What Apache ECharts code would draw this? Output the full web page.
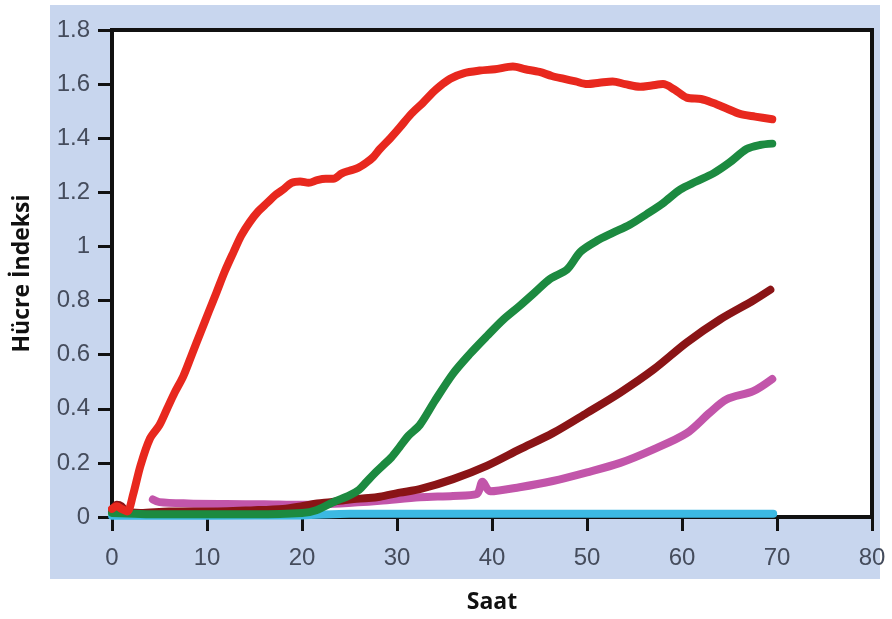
<!DOCTYPE html>
<html>
<head>
<meta charset="utf-8">
<script src="https://cdn.jsdelivr.net/npm/echarts@6/dist/echarts.min.js"></script>
<style>
  html, body { margin: 0; padding: 0; background: #ffffff; }
  #chart { width: 892px; height: 619px; }
</style>
</head>
<body>
<div id="chart"></div>
<script>
// Cell index over time (hours), one curve per condition: [hour, index]
const redCurve = [
  [0, 0.03], [0.5, 0.04], [1, 0.03], [1.6, 0.02], [2.2, 0.08], [3, 0.19], [4, 0.29],
  [5, 0.34], [5.8, 0.40], [6.6, 0.46], [7.5, 0.52], [8.4, 0.60], [9.3, 0.68],
  [10.2, 0.76], [11, 0.83], [11.9, 0.91], [12.8, 0.98], [13.6, 1.04], [14.5, 1.09],
  [15.4, 1.13], [16.3, 1.16], [17.2, 1.19], [18, 1.21], [18.9, 1.235], [19.8, 1.24],
  [20.7, 1.235], [21.6, 1.245], [22.5, 1.25], [23.3, 1.25], [24.2, 1.27], [25, 1.28],
  [25.9, 1.29], [26.8, 1.31], [27.5, 1.33], [28.2, 1.36], [29.3, 1.40], [30.3, 1.44],
  [31.5, 1.49], [32.7, 1.53], [34.1, 1.58], [35.6, 1.62], [37, 1.64], [38.7, 1.65],
  [40.3, 1.655], [42.2, 1.665], [43.5, 1.655], [45, 1.645], [46.3, 1.63], [47.5, 1.62],
  [48.8, 1.61], [50, 1.60], [51.3, 1.605], [52.7, 1.61], [54, 1.60], [55.6, 1.59],
  [56.8, 1.595], [58, 1.60], [59.2, 1.58], [60.5, 1.55], [62, 1.545], [63.3, 1.53],
  [64.7, 1.51], [66.1, 1.49], [67.7, 1.48], [69.5, 1.47]
];

const greenCurve = [
  [0, 0.015], [5, 0.01], [10, 0.01], [15, 0.01], [20, 0.015], [21.5, 0.025],
  [23.3, 0.055], [25, 0.08], [26, 0.10], [26.8, 0.13], [27.6, 0.16], [28.5, 0.19],
  [29.4, 0.22], [30.3, 0.26], [31.2, 0.30], [32.4, 0.34], [34, 0.43], [35.9, 0.53],
  [37.6, 0.60], [39.5, 0.67], [41.2, 0.73], [42.9, 0.78], [44.5, 0.83], [46.1, 0.88],
  [47.9, 0.915], [49.3, 0.98], [51, 1.02], [52.7, 1.05], [54.5, 1.08], [56.3, 1.12],
  [58, 1.16], [59.8, 1.21], [61.5, 1.24], [63.3, 1.27], [65, 1.31], [66.8, 1.36],
  [68.2, 1.375], [69.5, 1.38]
];

const darkRedCurve = [
  [0, 0.02], [0.5, 0.045], [1, 0.04], [1.5, 0.02], [3, 0.015], [6, 0.02], [10, 0.02],
  [15, 0.025], [18, 0.03], [20, 0.04], [21.6, 0.05], [23, 0.055], [25, 0.065],
  [27, 0.07], [28.2, 0.075], [30.3, 0.09], [32.4, 0.103], [35.9, 0.14], [39.5, 0.19],
  [42.9, 0.25], [46.4, 0.31], [50, 0.385], [53.5, 0.46], [57, 0.545], [60.5, 0.645],
  [64, 0.73], [67.5, 0.80], [69.3, 0.84]
];

const magentaCurve = [
  [4.3, 0.065], [5, 0.055], [8, 0.05], [12, 0.048], [16, 0.047], [20, 0.045],
  [24, 0.05], [28.2, 0.06], [32.4, 0.073], [35.9, 0.078], [38.4, 0.085], [39, 0.13],
  [39.8, 0.095], [42.9, 0.11], [46.4, 0.133], [50, 0.165], [53.5, 0.20], [57, 0.25],
  [60.5, 0.31], [62.9, 0.385], [64.7, 0.435], [67.5, 0.465], [69.5, 0.51]
];

const cyanCurve = [
  [0, 0.005], [10, 0.005], [20, 0.006], [25, 0.012], [30, 0.012], [40, 0.012],
  [50, 0.012], [60, 0.012], [69.6, 0.012]
];

const xTickLabels = ['0', '10', '20', '30', '40', '50', '60', '70', '80'];
const yTickLabels = ['0', '0.2', '0.4', '0.6', '0.8', '1', '1.2', '1.4', '1.6', '1.8'];

const tickFont = { color: '#454c5c', fontSize: 24, fontFamily: 'Liberation Sans Narrow, Liberation Sans, sans-serif' };
const titleFont = { color: '#111111', fontSize: 23, fontWeight: 'bold', fontFamily: 'Open Sans, sans-serif' };

function lineSeries(name, data, color) {
  return {
    name: name,
    type: 'line',
    data: data,
    showSymbol: false,
    smooth: 0.3,
    lineStyle: { color: color, width: 8, cap: 'round', join: 'round' },
    emphasis: { disabled: true }
  };
}

const chart = echarts.init(document.getElementById('chart'));
chart.setOption({
  animation: false,
  backgroundColor: '#ffffff',
  graphic: [{
    type: 'rect',
    z: -10,
    silent: true,
    shape: { x: 50, y: 5, width: 830, height: 574 },
    style: { fill: '#c8d6ee' }
  }],
  grid: {
    left: 112, right: 20, top: 30, bottom: 101,
    show: true, backgroundColor: '#ffffff', borderColor: '#111111', borderWidth: 4
  },
  xAxis: {
    type: 'value', min: 0, max: 80, interval: 10,
    name: 'Saat', nameLocation: 'middle', nameGap: 74, nameTextStyle: titleFont,
    axisLine: { show: true, lineStyle: { color: '#111111', width: 4 } },
    axisTick: { show: true, length: 14, lineStyle: { color: '#111111', width: 3 } },
    axisLabel: Object.assign({ margin: 29, formatter: v => xTickLabels[Math.round(v / 10)] }, tickFont),
    splitLine: { show: false }
  },
  yAxis: {
    type: 'value', min: 0, max: 1.8, interval: 0.2,
    name: 'Hücre İndeksi', nameLocation: 'middle', nameGap: 78, nameRotate: 90, nameTextStyle: titleFont,
    axisLine: { show: true, lineStyle: { color: '#111111', width: 4 } },
    axisTick: { show: true, length: 14, lineStyle: { color: '#111111', width: 3 } },
    axisLabel: Object.assign({ margin: 22, formatter: v => yTickLabels[Math.round(v / 0.2)] }, tickFont),
    splitLine: { show: false }
  },
  series: [
    lineSeries('cyan', cyanCurve, '#3cb9e3'),
    lineSeries('magenta', magentaCurve, '#c255aa'),
    lineSeries('darkred', darkRedCurve, '#8a1416'),
    lineSeries('green', greenCurve, '#1c8a40'),
    lineSeries('red', redCurve, '#e8281e')
  ]
});
</script>
</body>
</html>
